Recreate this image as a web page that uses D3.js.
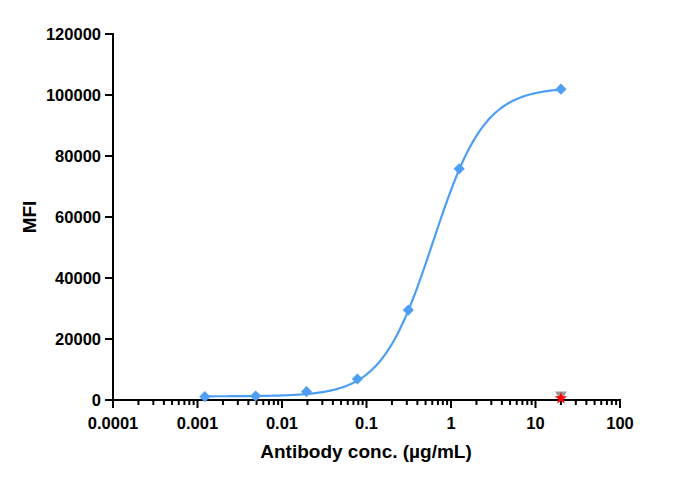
<!DOCTYPE html>
<html><head><meta charset="utf-8">
<script src="https://cdn.jsdelivr.net/npm/d3@7"></script>
<style>body{margin:0;background:#fff;} text{font-family:"Liberation Sans",Arial,sans-serif;font-weight:bold;fill:#000;}</style>
</head><body><svg id="c" width="676" height="481"></svg>
<script>
// Data
const concentrations = [0.00122, 0.00488, 0.0195, 0.078, 0.3125, 1.25, 20];
const mfiValues = [1080, 1310, 2720, 6880, 29500, 75800, 101900];
const controlConc = [20];
const controlTriangle = [1700];
const controlStar = [550];
// 4PL fit parameters: bottom, top, logEC50, hill slope
const fitParams = [1200, 102500, -0.213, 1.42];
const xTickLabels = ["0.0001", "0.001", "0.01", "0.1", "1", "10", "100"];
const yTickLabels = ["0", "20000", "40000", "60000", "80000", "100000", "120000"];

const svg = d3.select("#c");
const x = d3.scaleLog().domain([0.0001, 100]).range([113, 620]);
const y = d3.scaleLinear().domain([0, 120000]).range([400, 34]);
const blue = "#4e9ef4";

// X axis
const xMajor = xTickLabels.map(Number);
const xMinor = [];
for (let d = 0; d < xMajor.length - 1; d++) for (let k = 2; k <= 9; k++) xMinor.push(xMajor[d] * k);
const gx = svg.append("g").attr("transform", "translate(0,400)");
gx.append("line").attr("x1", x(0.0001)).attr("x2", x(100)).attr("stroke", "#000").attr("stroke-width", 2);
gx.selectAll(".mj").data(xMajor).join("line").attr("x1", d => x(d)).attr("x2", d => x(d))
  .attr("y1", -1).attr("y2", 8).attr("stroke", "#000").attr("stroke-width", 2);
gx.selectAll(".mn").data(xMinor).join("line").attr("x1", d => x(d)).attr("x2", d => x(d))
  .attr("y1", 0).attr("y2", 5).attr("stroke", "#000").attr("stroke-width", 2);
gx.selectAll("text").data(xTickLabels).join("text").attr("x", d => x(+d)).attr("y", 29)
  .attr("text-anchor", "middle").attr("font-size", 16.5).text(d => d);

// Y axis
const gy = svg.append("g").attr("transform", "translate(113,0)");
gy.append("line").attr("y1", y(120000) - 1).attr("y2", y(0) + 1).attr("stroke", "#000").attr("stroke-width", 2);
gy.selectAll(".t").data(yTickLabels).join("line").attr("x1", -8).attr("x2", 0)
  .attr("y1", d => y(+d)).attr("y2", d => y(+d)).attr("stroke", "#000").attr("stroke-width", 2);
gy.selectAll("text").data(yTickLabels).join("text").attr("x", -12).attr("y", d => y(+d)).attr("dy", "0.36em")
  .attr("text-anchor", "end").attr("font-size", 16.5).text(d => d);

// Axis titles
svg.append("text").attr("x", 366).attr("y", 458).attr("text-anchor", "middle").attr("font-size", 19).text("Antibody conc. (µg/mL)");
svg.append("text").attr("transform", "translate(36,217) rotate(-90)").attr("text-anchor", "middle").attr("font-size", 19).text("MFI");

// Fit curve
const [fitBottom, fitTop, fitLogEC50, fitHill] = fitParams;
const fit = lx => fitBottom + (fitTop - fitBottom) / (1 + Math.pow(10, (fitLogEC50 - lx) * fitHill));
const lx0 = Math.log10(concentrations[0]), lx1 = Math.log10(concentrations[concentrations.length - 1]);
const curvePts = d3.range(0, 201).map(i => { const lx = lx0 + (lx1 - lx0) * i / 200; return [Math.pow(10, lx), fit(lx)]; });
svg.append("path").datum(curvePts).attr("fill", "none").attr("stroke", blue).attr("stroke-width", 2.2)
  .attr("d", d3.line().x(d => x(d[0])).y(d => y(d[1])));

// Data points (diamonds)
svg.selectAll(".pt").data(concentrations).join("path")
  .attr("transform", (d, i) => `translate(${x(d)},${y(mfiValues[i])})`)
  .attr("d", d3.symbol().type(d3.symbolDiamond2).size(80)).attr("fill", blue);

// Controls
svg.selectAll(".tri").data(controlConc).join("path")
  .attr("transform", (d, i) => `translate(${x(d)},${y(controlTriangle[i])}) rotate(180)`)
  .attr("d", d3.symbol().type(d3.symbolTriangle).size(60)).attr("fill", "#999");
svg.selectAll(".star").data(controlConc).join("path")
  .attr("transform", (d, i) => `translate(${x(d)},${y(controlStar[i])})`)
  .attr("d", d3.symbol().type(d3.symbolStar).size(50)).attr("fill", "#f00");
</script></body></html>
